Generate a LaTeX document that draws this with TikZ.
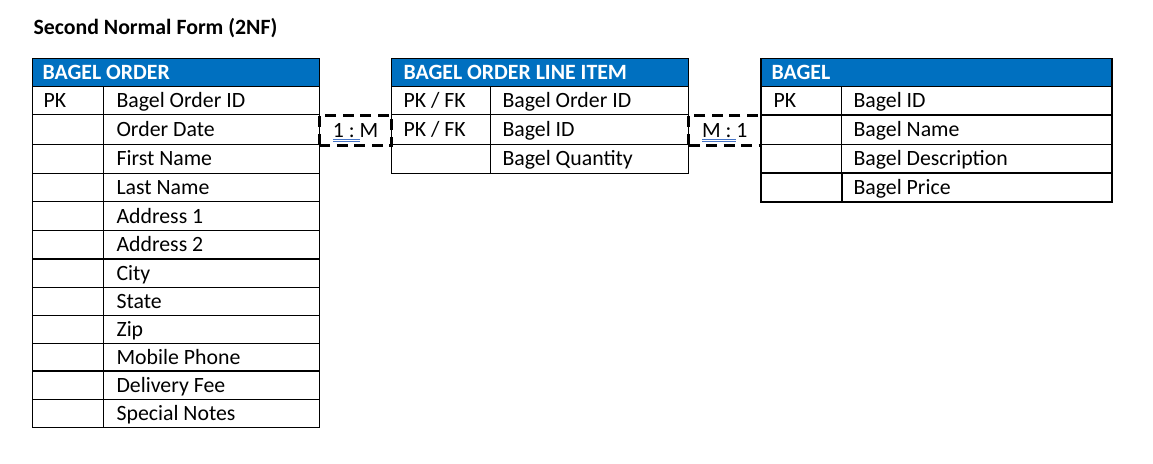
\documentclass[tikz,border=0pt]{standalone}
\usepackage{fontspec}
\setmainfont{Carlito}
\usepackage{xcolor}
\usepackage{tikz}

\definecolor{hdrblue}{HTML}{0070C0}
\definecolor{ulblue}{HTML}{4472C4}

% blue double underline under a piece of text
\newsavebox{\pmbox}
\newcommand{\proofmark}[1]{\sbox{\pmbox}{#1}%
  \rlap{\color{ulblue}\smash{\rule[-2.6pt]{\wd\pmbox}{0.9pt}}}%
  \rlap{\color{ulblue}\smash{\rule[-4.8pt]{\wd\pmbox}{0.9pt}}}\usebox{\pmbox}}

\begin{document}
\begin{tikzpicture}[x=1pt, y=-1pt, line width=1.1pt,
    every node/.style={inner sep=0pt, font=\fontsize{21.8}{24}\selectfont},
    title/.style={anchor=base west, font=\fontsize{21.8}{24}\selectfont\bfseries},
    hdr/.style={anchor=base west, text=white, font=\fontsize{21.8}{24}\selectfont\bfseries},
    field/.style={anchor=base west},
    relbox/.style={draw, line width=2.8pt, dash pattern=on 11pt off 6.5pt,
        minimum width=72.4pt, minimum height=29.6pt}]
            \useasboundingbox (0,0) rectangle (1153,463);

            % Title
            \node[title] (title) at (33,34) {Second Normal Form (2NF)};

            % Bagel order
            \fill[hdrblue] (32.3,58.3) rectangle (319.3,86.7);
            \draw (32.3,58.3) rectangle (319.3,427.7);
            \foreach \y in {86.7,114.7,144.3,173.5,201.7,230.7,259,287.3,315.7,343.7,371,399.3}
                \draw (32.3,\y) -- (319.3,\y);
            \draw (103.7,86.7) -- (103.7,427.7);
            \node[hdr] (order) at (42,79) {BAGEL ORDER};
            \node[field] (order-pk) at (43,107.7) {PK};
            \foreach \yb/\txt [count=\i] in {107.7/Bagel Order ID, 136.5/Order Date,
                165.9/First Name, 194.6/Last Name, 223.2/Address 1, 251.9/Address 2,
                280.2/City, 308.5/State, 336.7/Zip, 364.4/Mobile Phone,
                392.2/Delivery Fee, 420.5/Special Notes}
                \node[field] (order-\i) at (116,\yb) {\txt};

            % Bagel order line item
            \fill[hdrblue] (391.7,58.3) rectangle (688.5,86.7);
            \draw (391.7,58.3) rectangle (688.5,173.3);
            \foreach \y in {86.7,114.5,144.3}
                \draw (391.7,\y) -- (688.5,\y);
            \draw (490.3,86.7) -- (490.3,173.3);
            \node[hdr] (item) at (403,79) {BAGEL ORDER LINE ITEM};
            \node[field] (item-pk1) at (403,107.7) {PK / FK};
            \node[field] (item-pk2) at (403,136.4) {PK / FK};
            \node[field] (item-1) at (502,107.7) {Bagel Order ID};
            \node[field] (item-2) at (502,136.4) {Bagel ID};
            \node[field] (item-3) at (502,165.8) {Bagel Quantity};

            % Bagel
            \fill[hdrblue] (761,58.3) rectangle (1112,86.7);
            \draw (761,58.3) rectangle (1112,173.3);
            \foreach \y in {86.7,115,144.3}
                \draw (761,\y) -- (1112,\y);
            \draw (841.7,86.7) -- (841.7,173.3);
            \draw[line width=2pt] (761,173.3) rectangle (1112,201.7);
            \draw[line width=2pt] (841.7,173.3) -- (841.7,201.7);
            \node[hdr] (bagel) at (771,79) {BAGEL};
            \node[field] (bagel-pk) at (773,107.8) {PK};
            \node[field] (bagel-1) at (853,107.8) {Bagel ID};
            \node[field] (bagel-2) at (853,136.6) {Bagel Name};
            \node[field] (bagel-3) at (853,165.8) {Bagel Description};
            \node[field] (bagel-4) at (853,194.5) {Bagel Price};

            % Relationships
            \node[relbox] (order-item) at (355.5,130.5) {\proofmark{1 :\ }M};
            \node[relbox] (item-bagel) at (724.75,130.5) {\proofmark{M :\ }1};

        \end{tikzpicture}
\end{document}
